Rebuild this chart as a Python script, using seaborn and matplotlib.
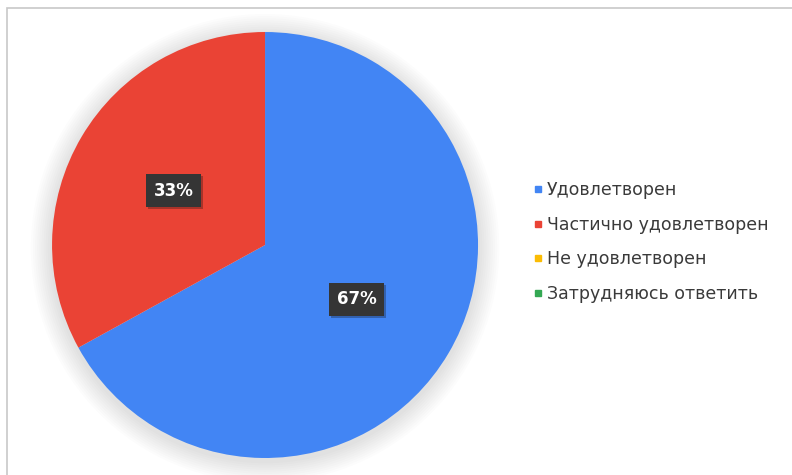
import matplotlib
matplotlib.use("Agg")
import matplotlib.pyplot as plt
import matplotlib.patheffects as pe
from matplotlib.patches import Circle, Rectangle
from matplotlib.lines import Line2D
import seaborn as sns

# Chart data
categories = [
    "Удовлетворен",
    "Частично удовлетворен",
    "Не удовлетворен",
    "Затрудняюсь ответить",
]
shares = [67, 33, 0, 0]
colors = ["#4285F4", "#EA4335", "#FBBC04", "#34A853"]

sns.set_theme(style="white")
plt.rcParams["font.family"] = ["DejaVu Sans"]

fig = plt.figure(figsize=(7.92, 4.75), dpi=100)
fig.patch.set_facecolor("white")

# frame of the chart area (cropped screenshot)
fig.patches.append(Rectangle(
    (7 / 792, -0.1), 1.2, (475 - 8) / 475 + 0.1,
    transform=fig.transFigure, fill=False,
    edgecolor="#c8c8c8", linewidth=1.2
))

ax = fig.add_axes([0.0657, 0.0358, 0.5379, 0.8968])

# soft shadow behind the pie
for i in range(10):
    ax.add_patch(Circle(
        (0, -0.015), 1.0 + 0.01 * (i + 1),
        facecolor="#000000", alpha=0.01, linewidth=0, zorder=0,
        clip_on=False
    ))


def pct_label(p):
    return f"{p:.0f}%" if p > 0.5 else ""


wedges, texts, autotexts = ax.pie(
    shares,
    colors=colors,
    startangle=90,
    counterclock=False,
    autopct=pct_label,
    pctdistance=0.5,
    wedgeprops=dict(linewidth=0),
    textprops=dict(color="white", fontsize=12, fontweight="bold"),
)
for w in wedges:
    w.set_clip_on(False)

for t in autotexts:
    if t.get_text():
        t.set_bbox(dict(boxstyle="square,pad=0.45", facecolor="#353535",
                        edgecolor="none"))
        t.get_bbox_patch().set_path_effects([
            pe.SimplePatchShadow(offset=(1.5, -1.5), alpha=0.3),
            pe.Normal(),
        ])

ax.set_xlim(-1, 1)
ax.set_ylim(-1, 1)
ax.set_aspect("equal")
ax.axis("off")

handles = [
    Line2D([0], [0], marker="s", linestyle="none", markersize=5,
           markerfacecolor=c, markeredgecolor=c)
    for c in colors
]
fig.legend(
    handles, categories,
    loc="center left",
    bbox_to_anchor=(533 / 792, 1 - 242 / 475),
    frameon=False,
    fontsize=12.5,
    labelcolor="#3a3a3a",
    handlelength=0.55,
    handletextpad=0.25,
    labelspacing=0.95,
    borderpad=0,
    borderaxespad=0,
)

fig.savefig("out.png", dpi=100)
